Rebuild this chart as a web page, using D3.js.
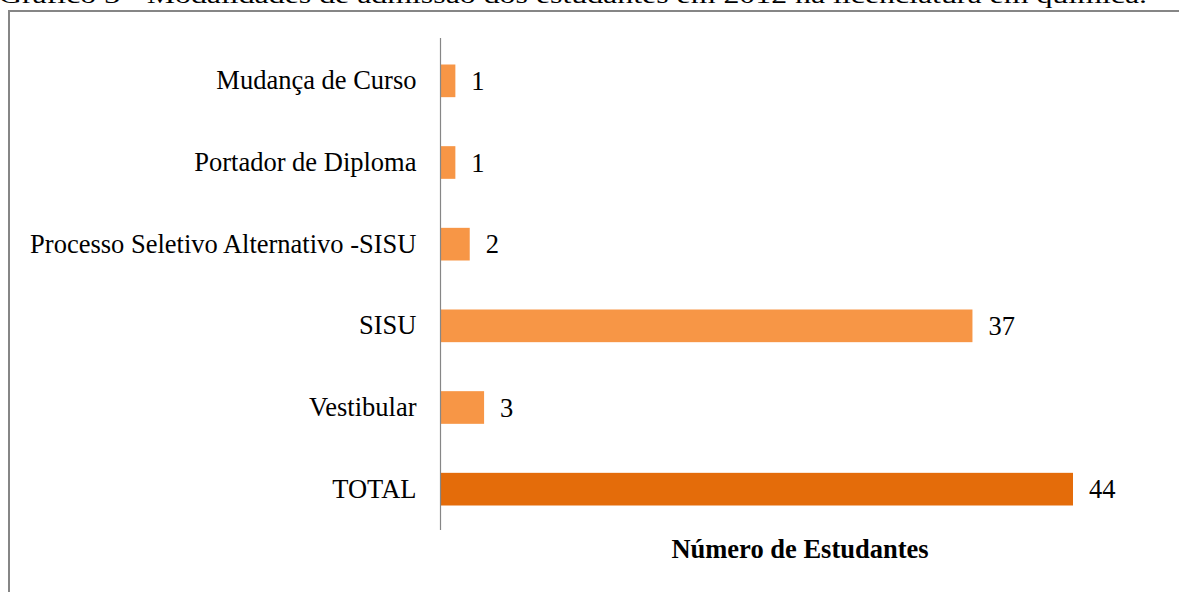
<!DOCTYPE html>
<html>
<head>
<meta charset="utf-8">
<script src="https://cdn.jsdelivr.net/npm/d3@7"></script>
<style>
  html, body { margin: 0; padding: 0; background: #fff; }
  svg { display: block; }
  text { font-family: "Liberation Serif", "Times New Roman", serif; }
</style>
</head>
<body>
<svg id="chart" width="1179" height="592"></svg>
<script>
const categories = ["Mudança de Curso", "Portador de Diploma", "Processo Seletivo Alternativo -SISU", "SISU", "Vestibular", "TOTAL"];
const values = [1, 1, 2, 37, 3, 44];
const barColors = ["#F79646", "#F79646", "#F79646", "#F79646", "#F79646", "#E46C0A"];
const titleText = "Gráfico 3 - Modalidades de admissão dos estudantes em 2012 na licenciatura em química.";
const axisTitle = "Número de Estudantes";

const svg = d3.select("#chart");
const FS = 26.5;

// title (cut off at top, as in the reference)
svg.append("text")
  .attr("x", -1).attr("y", 3)
  .attr("font-size", 23)
  .attr("fill", "#000")
  .attr("textLength", 1148)
  .attr("lengthAdjust", "spacingAndGlyphs")
  .text(titleText);

// chart area border
svg.append("rect")
  .attr("x", 9).attr("y", 11)
  .attr("width", 1200).attr("height", 620)
  .attr("fill", "none")
  .attr("stroke", "#868686")
  .attr("stroke-width", 2);

const x = d3.scaleLinear().domain([0, 44]).range([441, 1073]);
const y = d3.scaleBand().domain(categories).range([40, 530]).paddingInner(0.6).paddingOuter(0.3);

// bars
svg.append("g").selectAll("rect")
  .data(categories)
  .join("rect")
  .attr("x", x(0))
  .attr("y", d => y(d))
  .attr("width", (d, i) => x(values[i]) - x(0))
  .attr("height", y.bandwidth())
  .attr("fill", (d, i) => barColors[i]);

// y axis
const yAxis = d3.axisLeft(y).tickSize(0).tickPadding(24);
const gy = svg.append("g").attr("transform", `translate(${x(0) - 0.5},0)`).call(yAxis);
gy.select(".domain").attr("stroke", "#868686").attr("stroke-width", 1.2).attr("d", "M0,38V530");
gy.selectAll(".tick text")
  .attr("font-family", "Liberation Serif, Times New Roman, serif")
  .attr("font-size", FS)
  .attr("fill", "#000");

// value labels
svg.append("g").selectAll("text")
  .data(categories)
  .join("text")
  .attr("x", (d, i) => x(values[i]) + 16)
  .attr("y", d => y(d) + y.bandwidth() / 2)
  .attr("dy", "0.35em")
  .attr("font-size", FS)
  .attr("fill", "#000")
  .text((d, i) => values[i]);

// axis title
svg.append("text")
  .attr("x", 800).attr("y", 558)
  .attr("text-anchor", "middle")
  .attr("font-size", FS)
  .attr("font-weight", "bold")
  .attr("fill", "#000")
  .text(axisTitle);
</script>
</body>
</html>
